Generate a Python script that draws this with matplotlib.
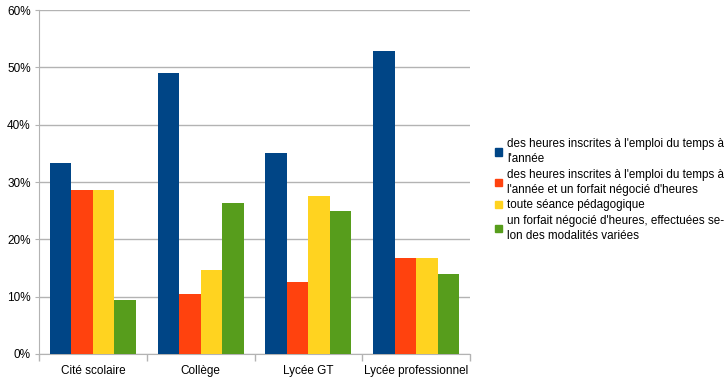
import numpy as np
import matplotlib.pyplot as plt
from matplotlib.patches import Patch
from matplotlib.ticker import FuncFormatter, FixedLocator

plt.rcParams["font.family"] = ["Liberation Sans", "DejaVu Sans"]

categories = ["Cité scolaire", "Collège", "Lycée GT", "Lycée professionnel"]
series_labels = [
    "des heures inscrites à l'emploi du temps à\nl'année",
    "des heures inscrites à l'emploi du temps à\nl'année et un forfait négocié d'heures",
    "toute séance pédagogique",
    "un forfait négocié d'heures, effectuées se-\nlon des modalités variées",
]
emploi_du_temps = [33.3, 49.0, 35.1, 52.9]
emploi_et_forfait = [28.6, 10.4, 12.5, 16.7]
toute_seance = [28.6, 14.6, 27.5, 16.7]
forfait_negocie = [9.5, 26.3, 25.0, 13.9]
colors = ["#004586", "#ff420e", "#ffd320", "#579d1c"]

series = [emploi_du_temps, emploi_et_forfait, toute_seance, forfait_negocie]

fig = plt.figure(figsize=(7.28, 3.86), dpi=100)
ax = fig.add_axes([39 / 728, 1 - 354 / 386, 431 / 728, 344 / 386])

x = np.arange(len(categories))
width = 0.2
for i, (vals, col) in enumerate(zip(series, colors)):
    ax.bar(x + (i - 1.5) * width, vals, width, color=col, zorder=3)

ax.set_xlim(-0.5, len(categories) - 0.5)
ax.set_ylim(0, 60)
ax.set_yticks(range(0, 61, 10))
ax.yaxis.set_major_formatter(FuncFormatter(lambda v, p: f"{int(v)}%"))
ax.grid(axis="y", color="#b3b3b3", linewidth=1, zorder=0)

ax.set_xticks(x)
ax.set_xticklabels(categories)
ax.xaxis.set_minor_locator(FixedLocator(np.arange(-0.5, len(categories), 1)))
ax.tick_params(axis="x", which="major", length=0, pad=8, labelsize=8.5)
ax.tick_params(axis="x", which="minor", length=5, color="#b3b3b3", width=1)
ax.tick_params(axis="y", length=3, color="#b3b3b3", labelsize=8.5, pad=3)

for side in ["top", "right"]:
    ax.spines[side].set_visible(False)
for side in ["left", "bottom"]:
    ax.spines[side].set_color("#b3b3b3")

handles = [Patch(facecolor=c, edgecolor=c) for c in colors]
leg = fig.legend(handles, series_labels, loc="center left",
                 bbox_to_anchor=(484 / 728, 1 - 190 / 386), frameon=False,
                 fontsize=8.4, handlelength=0.6, handleheight=0.6,
                 handletextpad=0.5, labelspacing=0.3)
for t in leg.get_texts():
    t.set_linespacing(1.35)

fig.savefig("out.png", dpi=100)
